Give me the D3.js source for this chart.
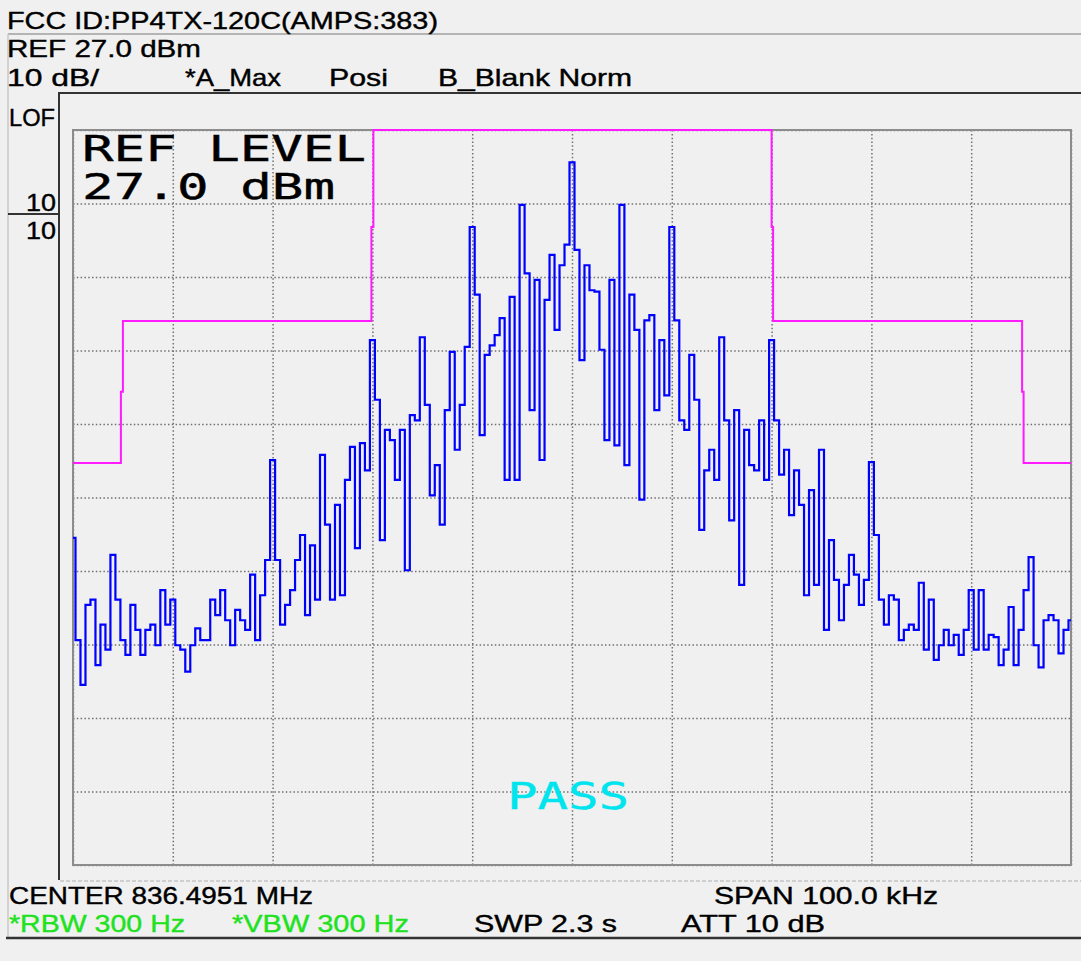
<!DOCTYPE html>
<html>
<head>
<meta charset="utf-8">
<script src="https://cdn.jsdelivr.net/npm/d3@7"></script>
<style>
  body { margin: 0; background: #f0f0f0; }
  svg { display: block; }
</style>
</head>
<body>
<div id="vis"></div>
<script>
// spectrum analyzer plot, AMPS emission mask
const gridFreqs = [-50, -40, -30, -20, -10, 0, 10, 20, 30, 40, 50]; // kHz from center
const gridLevels = [27, 17, 7, -3, -13, -23, -33, -43, -53, -63, -73]; // dBm

// emission mask (magenta), kHz / dBm
const maskFreq  = [-50, -45.2, -45.2, -45.0, -45.0, -20.1, -20.1, -19.9, -19.9, 20.0, 20.0, 20.15, 20.15, 45.1, 45.1, 45.25, 45.25, 50];
const maskLevel = [-18.3, -18.3, -8.6, -8.6, 1.0, 1.0, 13.8, 13.8, 27, 27, 13.8, 13.8, 1.0, 1.0, -8.6, -8.6, -18.3, -18.3];

// max hold trace, one value every 0.5 kHz from -50 kHz
const freqStartKHz = -50, freqStepKHz = 0.5;
const traceDbm = [
  -28.5, -42.4, -48.5, -37.6, -36.9, -45.8, -40.3, -43.7, -30.8, -36.9,
  -42.4, -44.4, -37.6, -41.0, -44.4, -41.0, -40.3, -43.1, -35.6, -40.3,
  -36.9, -43.1, -43.7, -46.7, -43.1, -40.8, -42.4, -42.4, -36.9, -39.0,
  -35.6, -39.7, -43.1, -38.3, -39.7, -41.0, -33.5, -42.4, -36.3, -31.5,
  -17.9, -31.5, -40.3, -37.6, -35.6, -31.5, -28.1, -39.0, -29.5, -36.9,
  -17.2, -26.7, -36.9, -24.0, -36.3, -20.6, -16.1, -29.9, -15.6, -19.3,
  -1.6, -9.7, -28.8, -13.8, -15.2, -20.6, -13.8, -32.9, -11.8, -12.5,
  -1.2, -10.4, -22.7, -18.6, -26.7, -11.1, -3.2, -16.5, -10.4, -2.5,
  13.8, 4.6, -14.5, -3.6, -2.3, -0.9, 1.4, -20.6, 4.3, -20.6,
  16.8, 7.5, -11.1, 6.6, -17.9, 3.9, 10.0, -0.2, 8.6, 11.4,
  22.6, 10.7, -4.3, 8.6, 5.2, 5.0, -2.9, -15.2, 6.6, -15.9,
  16.8, -18.6, 4.6, -0.2, -23.3, 1.1, 1.8, -11.1, -1.6, -9.1,
  13.8, 1.1, -12.5, -13.8, -3.6, -9.7, -27.4, -19.3, -16.5, -20.6,
  -1.2, -12.5, -26.1, -11.1, -34.9, -13.8, -18.6, -19.3, -12.5, -20.6,
  -1.6, -12.5, -19.9, -16.5, -25.4, -19.3, -24.0, -36.3, -22.0, -34.9,
  -16.5, -41.0, -28.8, -34.2, -39.7, -34.9, -30.8, -33.5, -37.6, -34.2,
  -18.2, -28.1, -36.9, -40.3, -36.3, -36.9, -42.4, -41.0, -40.3, -41.0,
  -34.6, -43.7, -36.9, -45.1, -43.1, -41.0, -43.1, -41.7, -44.4, -41.0,
  -35.6, -43.7, -35.6, -43.7, -41.7, -42.0, -45.8, -43.7, -37.9, -45.8,
  -41.0, -35.6, -31.1, -43.1, -46.1, -39.7, -39.0, -39.7, -44.2, -41.0,
  -39.7
];

const W = 1081, H = 961;
const plot = {left: 73, right: 1071, top: 130, bottom: 865};

const svg = d3.select('#vis').append('svg')
  .attr('width', W)
  .attr('height', H)
  .style('background-color', '#f0f0f0');

const x = d3.scaleLinear().domain([-50, 50]).range([plot.left, plot.right]);
const y = d3.scaleLinear().domain([-73, 27]).range([plot.bottom, plot.top]);

const sans = '"Liberation Sans Narrow", "Liberation Sans", Arial, sans-serif';
const mono = '"DejaVu Sans Mono", "Liberation Mono", monospace';

function label(px, py, txt, len, color, size, family) {
  return svg.append('text')
    .attr('x', px).attr('y', py)
    .attr('textLength', len)
    .attr('lengthAdjust', 'spacingAndGlyphs')
    .style('font-family', family || sans)
    .style('font-size', (size || 24) + 'px')
    .style('fill', color || '#000')
    .style('stroke', color || '#000')
    .style('stroke-width', 0.4)
    .text(txt);
}

// screen frame lines
svg.append('line').attr('x1', 8).attr('x2', W).attr('y1', 34).attr('y2', 34)
  .attr('stroke', '#b4b4b4').attr('stroke-width', 2);
svg.append('line').attr('x1', 8).attr('x2', 8).attr('y1', 34).attr('y2', 938)
  .attr('stroke', '#c8c8c8').attr('stroke-width', 1.5);
svg.append('line').attr('x1', 58).attr('x2', W).attr('y1', 93).attr('y2', 93)
  .attr('stroke', '#333').attr('stroke-width', 2);
svg.append('line').attr('x1', 59).attr('x2', 59).attr('y1', 93).attr('y2', 880)
  .attr('stroke', '#333').attr('stroke-width', 2);
svg.append('line').attr('x1', 8).attr('x2', 58).attr('y1', 214).attr('y2', 214)
  .attr('stroke', '#333').attr('stroke-width', 2);
svg.append('line').attr('x1', 60).attr('x2', W).attr('y1', 881).attr('y2', 881)
  .attr('stroke', '#c4c4c4').attr('stroke-width', 1.5).attr('stroke-dasharray', '4,2');
svg.append('line').attr('x1', 6).attr('x2', W).attr('y1', 938).attr('y2', 938)
  .attr('stroke', '#333').attr('stroke-width', 2.5);

// grid
const gx = svg.append('g')
  .attr('transform', `translate(0, ${plot.bottom})`)
  .call(d3.axisBottom(x).tickValues(gridFreqs).tickSize(-(plot.bottom - plot.top)).tickFormat(''));
const gy = svg.append('g')
  .attr('transform', `translate(${plot.left}, 0)`)
  .call(d3.axisLeft(y).tickValues(gridLevels).tickSize(-(plot.right - plot.left)).tickFormat(''));
[gx, gy].forEach(g => {
  g.select('.domain').remove();
  g.selectAll('.tick line')
    .attr('stroke', '#707070')
    .attr('stroke-width', 1.5)
    .attr('stroke-dasharray', '1.5,2.3');
});

// plot box
svg.append('rect')
  .attr('x', plot.left).attr('y', plot.top)
  .attr('width', plot.right - plot.left).attr('height', plot.bottom - plot.top)
  .attr('fill', 'none').attr('stroke', '#8c8c8c').attr('stroke-width', 2);

// mask
const maskPts = maskFreq.map((f, i) => [f, maskLevel[i]]);
svg.append('path')
  .datum(maskPts)
  .attr('fill', 'none')
  .attr('stroke', '#ff1aff')
  .attr('stroke-width', 2)
  .attr('d', d3.line().x(d => x(d[0])).y(d => y(d[1])));

// trace
svg.append('path')
  .datum(traceDbm)
  .attr('fill', 'none')
  .attr('stroke', '#0000ff')
  .attr('stroke-width', 2.2)
  .attr('stroke-linejoin', 'miter')
  .attr('d', d3.line()
    .curve(d3.curveStep)
    .x((d, i) => x(freqStartKHz + i * freqStepKHz))
    .y(d => y(d)));

// big annotations
label(82, 161, 'REF LEVEL', 284, '#000', 36, mono);
label(82, 199, '27.0 dBm', 253, '#000', 36, mono);
label(507, 809, 'PASS', 122, '#00e4ee', 38, mono);

// header
label(7, 29, 'FCC ID:PP4TX-120C(AMPS:383)', 431);
label(7, 57, 'REF 27.0 dBm', 194);
label(7, 86, '10 dB/', 92);
label(185, 86, '*A_Max', 96);
label(329, 86, 'Posi', 59);
label(438, 86, 'B_Blank Norm', 194);
label(9, 126, 'LOF', 46);
label(26, 211, '10', 30);
label(26, 239, '10', 30);

// footer
label(9, 904, 'CENTER 836.4951 MHz', 304);
label(714, 904, 'SPAN 100.0 kHz', 224);
label(9, 932, '*RBW 300 Hz', 176, '#1ee21e');
label(232, 932, '*VBW 300 Hz', 177, '#1ee21e');
label(474, 932, 'SWP 2.3 s', 143);
label(681, 932, 'ATT 10 dB', 144);
</script>
</body>
</html>
